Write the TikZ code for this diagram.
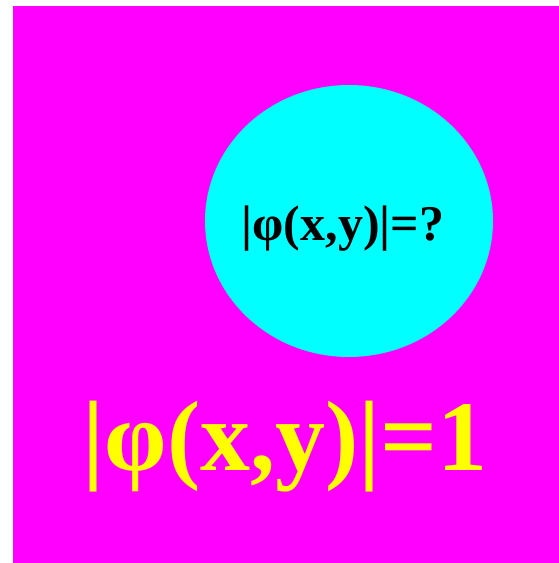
\documentclass[tikz,border=0pt]{standalone}
\usepackage{fontspec}
\setmainfont{Liberation Serif}
\definecolor{bgmag}{RGB}{255,0,255}
\definecolor{cyanfill}{RGB}{0,255,255}
\definecolor{yel}{RGB}{255,255,0}
\begin{document}
\begin{tikzpicture}[x=1pt,y=-1pt,
  lbl/.style={inner sep=0pt,anchor=base,font=\bfseries}]
\useasboundingbox (0,0) rectangle (559,563);
\fill[bgmag] (13,6) rectangle (559,563);
\fill[cyanfill] (349,221) ellipse [x radius=144, y radius=136];
\node[lbl,font=\bfseries\fontsize{50}{54}\selectfont] (q) at (343,240) {|φ(x,y)|=?};
\node[lbl,text=yel,font=\bfseries\fontsize{100}{108}\selectfont] (one) at (285.5,470) {|φ(x,y)|=1};
\end{tikzpicture}
\end{document}
